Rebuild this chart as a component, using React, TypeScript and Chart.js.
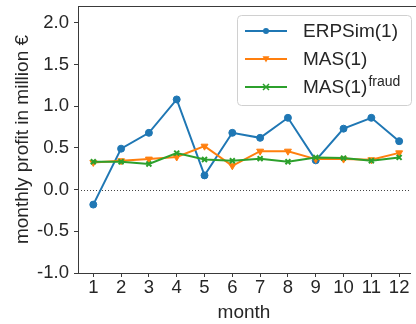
import React, { useEffect, useRef } from "react";
import { Chart, registerables } from "chart.js";
Chart.register(...registerables);

const months = [1, 2, 3, 4, 5, 6, 7, 8, 9, 10, 11, 12];
const erpsim = [-0.18, 0.49, 0.68, 1.08, 0.17, 0.68, 0.62, 0.86, 0.35, 0.73, 0.86, 0.58];
const mas = [0.325, 0.345, 0.365, 0.39, 0.52, 0.285, 0.46, 0.46, 0.365, 0.365, 0.357, 0.44];
const masFraud = [0.333, 0.333, 0.306, 0.437, 0.36, 0.345, 0.37, 0.333, 0.385, 0.377, 0.345, 0.385];
const yTicks = [-1, -0.5, 0, 0.5, 1, 1.5, 2];
const seriesNames = ["ERPSim(1)", "MAS(1)", "MAS(1)"];
const seriesSup = ["", "", "fraud"];
const seriesColors = ["#1f77b4", "#ff7f0e", "#2ca02c"];
const seriesMarkers = ["circle", "triangleDown", "x"];

const FONT = "'Liberation Sans', Arial, sans-serif";
const TEXT = "#262626";
const AXIS = "#3a3a3a";

function drawMarker(ctx: CanvasRenderingContext2D, kind: string, x: number, y: number, r: number, color: string) {
  ctx.save();
  ctx.fillStyle = color;
  ctx.strokeStyle = color;
  if (kind === "circle") {
    ctx.beginPath();
    ctx.arc(x, y, r, 0, Math.PI * 2);
    ctx.fill();
  } else if (kind === "triangleDown") {
    ctx.beginPath();
    ctx.moveTo(x - r, y - r * 0.8);
    ctx.lineTo(x + r, y - r * 0.8);
    ctx.lineTo(x, y + r);
    ctx.closePath();
    ctx.fill();
  } else {
    ctx.lineWidth = 1.5;
    ctx.beginPath();
    ctx.moveTo(x - r, y - r);
    ctx.lineTo(x + r, y + r);
    ctx.moveTo(x + r, y - r);
    ctx.lineTo(x - r, y + r);
    ctx.stroke();
  }
  ctx.restore();
}

const decorPlugin = {
  id: "decor",
  beforeDatasetsDraw(chart: any) {
    const { ctx, chartArea, scales } = chart;
    const y0 = scales.y.getPixelForValue(0);
    ctx.save();
    ctx.strokeStyle = "#444";
    ctx.lineWidth = 1;
    ctx.setLineDash([1, 2]);
    ctx.beginPath();
    ctx.moveTo(chartArea.left, Math.round(y0) + 0.5);
    ctx.lineTo(chartArea.right, Math.round(y0) + 0.5);
    ctx.stroke();
    ctx.restore();
  },
  afterDraw(chart: any) {
    const { ctx, chartArea } = chart;
    ctx.save();
    // top spine
    ctx.strokeStyle = AXIS;
    ctx.lineWidth = 1;
    ctx.beginPath();
    ctx.moveTo(chartArea.left, chartArea.top + 0.5);
    ctx.lineTo(chart.width, chartArea.top + 0.5);
    ctx.stroke();

    // legend
    const bx = 237.5, by = 15.5, bw = 174, bh = 90, rad = 4;
    ctx.fillStyle = "rgba(255,255,255,0.85)";
    ctx.strokeStyle = "#d0d0d0";
    ctx.lineWidth = 1;
    ctx.beginPath();
    ctx.moveTo(bx + rad, by);
    ctx.lineTo(bx + bw - rad, by);
    ctx.quadraticCurveTo(bx + bw, by, bx + bw, by + rad);
    ctx.lineTo(bx + bw, by + bh - rad);
    ctx.quadraticCurveTo(bx + bw, by + bh, bx + bw - rad, by + bh);
    ctx.lineTo(bx + rad, by + bh);
    ctx.quadraticCurveTo(bx, by + bh, bx, by + bh - rad);
    ctx.lineTo(bx, by + rad);
    ctx.quadraticCurveTo(bx, by, bx + rad, by);
    ctx.closePath();
    ctx.fill();
    ctx.stroke();

    const rows = [31, 59, 87];
    for (let i = 0; i < seriesNames.length; i++) {
      const yy = rows[i];
      ctx.strokeStyle = seriesColors[i];
      ctx.lineWidth = 2;
      ctx.beginPath();
      ctx.moveTo(245, yy);
      ctx.lineTo(287, yy);
      ctx.stroke();
      drawMarker(ctx, seriesMarkers[i], 266, yy, i === 1 ? 3.5 : 3, seriesColors[i]);
      ctx.fillStyle = TEXT;
      ctx.font = `19px ${FONT}`;
      ctx.textBaseline = "middle";
      ctx.textAlign = "left";
      ctx.fillText(seriesNames[i], 303, yy + 1);
      if (seriesSup[i]) {
        const w = ctx.measureText(seriesNames[i]).width;
        ctx.font = `14px ${FONT}`;
        ctx.fillText(seriesSup[i], 303 + w + 1, yy - 5);
      }
    }
    ctx.restore();
  },
};

export default function App() {
  const ref = useRef<HTMLCanvasElement>(null);
  useEffect(() => {
    const mk = (data: number[], i: number, style: any, rot: number, radius: number, bw: number, order: number) => ({
      label: seriesNames[i] + seriesSup[i],
      data: months.map((m, k) => ({ x: m, y: data[k] })),
      borderColor: seriesColors[i],
      backgroundColor: seriesColors[i],
      pointBackgroundColor: seriesColors[i],
      pointBorderColor: seriesColors[i],
      pointStyle: style,
      rotation: rot,
      pointRotation: rot,
      pointRadius: radius,
      pointBorderWidth: bw,
      borderWidth: 2,
      tension: 0,
      order,
    });
    const chart = new Chart(ref.current!, {
      type: "line",
      data: {
        datasets: [
          mk(erpsim, 0, "circle", 0, 3.5, 1, 2),
          mk(mas, 1, "triangle", 180, 4, 1, 1),
          mk(masFraud, 2, "crossRot", 0, 3.5, 2, 0),
        ],
      },
      options: {
        animation: false,
        responsive: false,
        devicePixelRatio: 1,
        layout: { padding: { top: 4, right: 0, left: 0, bottom: 0 } },
        plugins: { legend: { display: false }, tooltip: { enabled: false } },
        scales: {
          x: {
            type: "linear",
            min: 0.45,
            max: 12.39,
            afterBuildTicks: (s: any) => {
              s.ticks = months.map((v) => ({ value: v }));
            },
            afterFit: (s: any) => {
              s.height = 51;
              s.paddingLeft = 0;
              s.paddingRight = 0;
            },
            ticks: {
              font: { family: FONT, size: 18.5 },
              color: TEXT,
              padding: 0,
              maxRotation: 0,
              autoSkip: false,
              callback: (v: any) => String(v),
            },
            grid: { drawOnChartArea: false, drawTicks: true, tickLength: 4, color: AXIS },
            border: { display: true, color: AXIS, width: 1 },
            title: { display: true, text: "month", font: { family: FONT, size: 19 }, color: TEXT, padding: { top: 0, bottom: 0 } },
          },
          y: {
            type: "linear",
            min: -1,
            max: 2.2,
            afterBuildTicks: (s: any) => {
              s.ticks = yTicks.map((v) => ({ value: v }));
            },
            afterFit: (s: any) => {
              s.width = 78;
              s.paddingTop = 0;
              s.paddingBottom = 0;
            },
            ticks: {
              font: { family: FONT, size: 18.5 },
              color: TEXT,
              padding: 5,
              callback: (v: any) => Number(v).toFixed(1),
            },
            grid: { drawOnChartArea: false, drawTicks: true, tickLength: 4, color: AXIS },
            border: { display: true, color: AXIS, width: 1 },
            title: { display: true, text: "monthly profit in million €", font: { family: FONT, size: 19 }, color: TEXT, padding: { top: 11, bottom: 0 } },
          },
        },
      },
      plugins: [decorPlugin],
    });
    return () => chart.destroy();
  }, []);
  return (
    <div style={{ position: "fixed", left: 0, top: 0, width: 416, height: 324, background: "#fff" }}>
      <canvas ref={ref} width={416} height={324} style={{ width: 416, height: 324, display: "block" }} />
    </div>
  );
}
